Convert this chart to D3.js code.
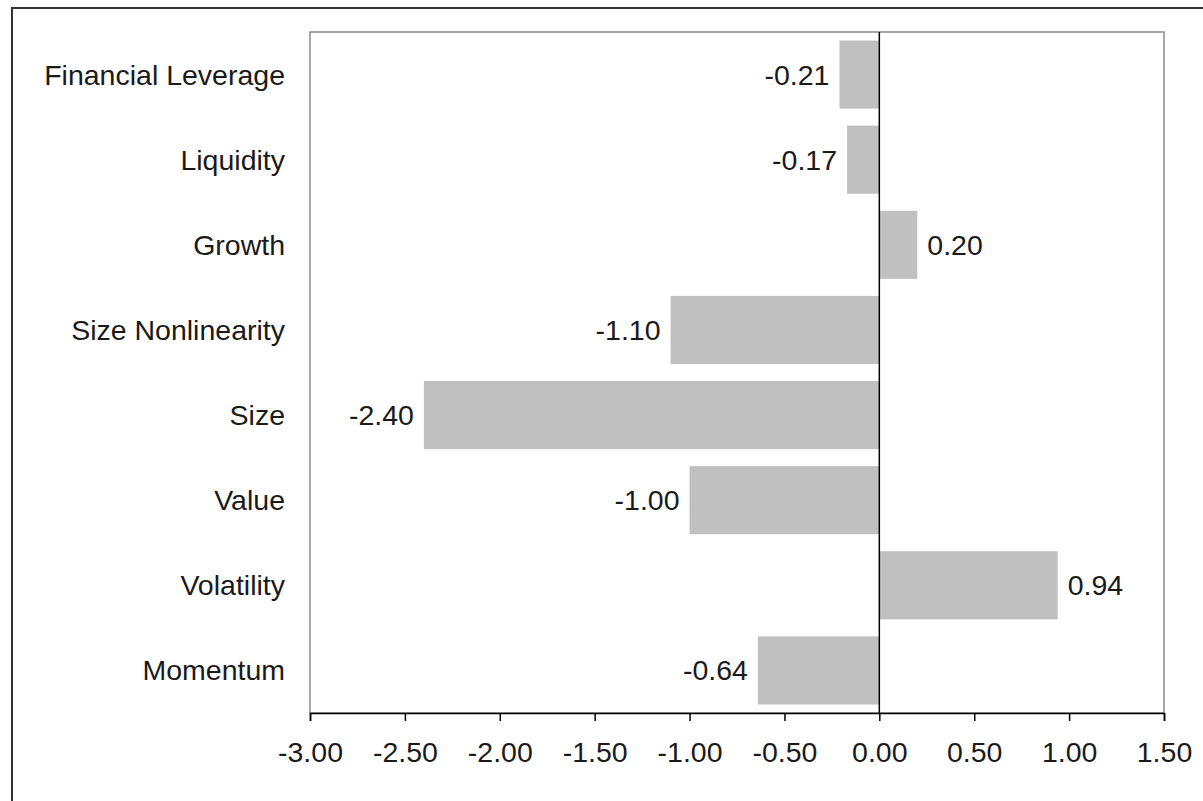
<!DOCTYPE html>
<html lang="en">
<head>
    <meta charset="UTF-8">
    <title>Factor exposures</title>
    <script src="https://d3js.org/d3.v7.min.js" type="text/javascript"></script>
    <style>
        body { margin: 0; background: #fff; }
        text { font-family: "Liberation Sans", Arial, sans-serif; fill: #1a1a1a; }
    </style>
</head>
<body>
<script>
    var factors = ['Financial Leverage', 'Liquidity', 'Growth', 'Size Nonlinearity', 'Size', 'Value', 'Volatility', 'Momentum'];
    var exposures = [-0.21, -0.17, 0.20, -1.10, -2.40, -1.00, 0.94, -0.64];
    var xTicks = [-3.0, -2.5, -2.0, -1.5, -1.0, -0.5, 0.0, 0.5, 1.0, 1.5];

    var width = 1203, height = 801;
    var plotLeft = 310, plotRight = 1164, plotTop = 32, plotBottom = 713;
    var fontSize = 28.5;

    var svg = d3.select('body').append('svg').attr('width', width).attr('height', height);

    // outer frame (only left and top edges visible)
    svg.append('line').attr('x1', 12).attr('x2', 12).attr('y1', 7).attr('y2', height)
        .attr('stroke', '#333').attr('stroke-width', 2);
    svg.append('line').attr('x1', 11).attr('x2', width).attr('y1', 8).attr('y2', 8)
        .attr('stroke', '#333').attr('stroke-width', 2);

    var x = d3.scaleLinear().domain([-3, 1.5]).range([plotLeft, plotRight]);
    var y = d3.scaleBand().domain(factors).range([plotTop, plotBottom]).paddingInner(0.2).paddingOuter(0.1);

    // plot frame
    svg.append('rect').attr('x', plotLeft).attr('y', plotTop)
        .attr('width', plotRight - plotLeft).attr('height', plotBottom - plotTop)
        .attr('fill', 'none').attr('stroke', '#8a8a8a').attr('stroke-width', 1.5);

    var data = factors.map(function (f, i) { return {name: f, value: exposures[i]}; });

    svg.selectAll('rect.bar')
        .data(data)
        .join('rect')
        .attr('class', 'bar')
        .attr('x', function (d) { return x(Math.min(0, d.value)); })
        .attr('y', function (d) { return y(d.name); })
        .attr('width', function (d) { return Math.abs(x(d.value) - x(0)); })
        .attr('height', y.bandwidth())
        .attr('fill', '#c0c0c0');

    // value labels
    svg.selectAll('text.val')
        .data(data)
        .join('text')
        .attr('class', 'val')
        .attr('x', function (d) { return d.value < 0 ? x(d.value) - 10 : x(d.value) + 10; })
        .attr('y', function (d) { return y(d.name) + y.bandwidth() / 2; })
        .attr('dy', '0.35em')
        .attr('text-anchor', function (d) { return d.value < 0 ? 'end' : 'start'; })
        .attr('font-size', fontSize)
        .text(function (d) { return d.value.toFixed(2); });

    // category labels
    svg.selectAll('text.cat')
        .data(data)
        .join('text')
        .attr('class', 'cat')
        .attr('x', plotLeft - 25)
        .attr('y', function (d) { return y(d.name) + y.bandwidth() / 2; })
        .attr('dy', '0.35em')
        .attr('text-anchor', 'end')
        .attr('font-size', fontSize)
        .text(function (d) { return d.name; });

    // zero line
    svg.append('line').attr('x1', x(0)).attr('x2', x(0)).attr('y1', plotTop).attr('y2', plotBottom)
        .attr('stroke', '#000').attr('stroke-width', 1.5);

    // x axis
    var xAxis = d3.axisBottom(x).tickValues(xTicks).tickSize(8).tickPadding(21)
        .tickFormat(function (d) { return d.toFixed(2); });
    var gx = svg.append('g').attr('transform', 'translate(0,' + plotBottom + ')').call(xAxis);
    gx.select('.domain').attr('stroke', '#000').attr('stroke-width', 1.5);
    gx.selectAll('.tick line').attr('stroke', '#000').attr('stroke-width', 1.5);
    gx.selectAll('.tick text').attr('font-size', fontSize).attr('font-family', '"Liberation Sans", Arial, sans-serif')
        .attr('fill', '#1a1a1a');

    console.log('ready..');
</script>
</body>
</html>
